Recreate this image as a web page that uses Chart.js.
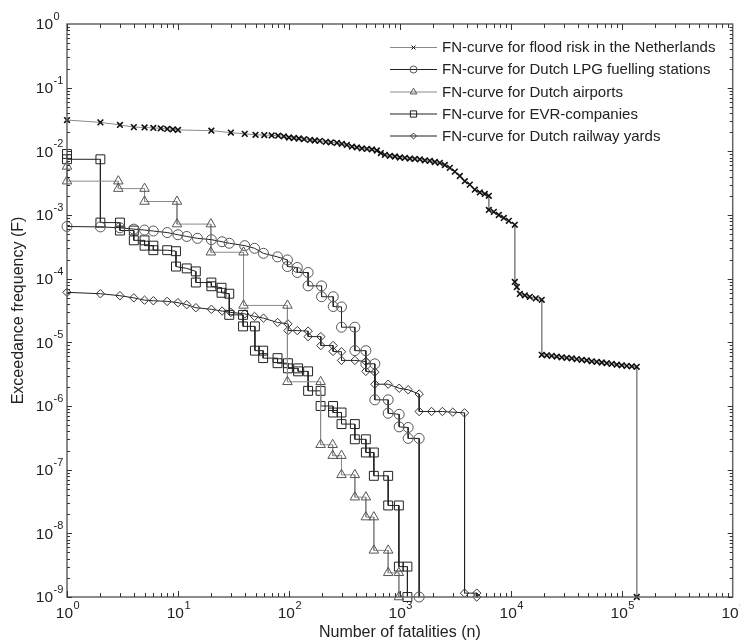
<!DOCTYPE html>
<html>
<head>
<meta charset="utf-8">
<script src="https://cdn.jsdelivr.net/npm/chart.js@4.4.0/dist/chart.umd.min.js"></script>
<style>
  body { margin: 0; background: #fff; }
  #wrap { width: 740px; height: 642px; }
</style>
</head>
<body>
<div id="wrap"><canvas id="fnChart" width="740" height="642"></canvas></div>
<script>
// FN-curve values (n = fatalities, F = exceedance frequency)
var floodN = [1, 2, 3, 4, 5, 6, 7, 8, 9, 10, 20, 30, 40, 50, 60, 70, 80, 90,
  100, 111, 123, 137, 155, 171, 190, 215, 239, 271, 300, 333, 370, 410, 455, 505, 560, 621,
  674, 733, 813, 902, 1000, 1110, 1231, 1365, 1514, 1680, 1863, 2067, 2293, 2543, 2821,
  3129, 3471, 3851, 4272, 4739, 5257, 5832, 6337, 6337, 7030, 7798, 8651, 9597, 10865,
  10865, 11330, 12050, 13370, 14830, 16800, 19010, 19010, 21090, 23390, 25950, 28790,
  31940, 35430, 39300, 43600, 48370, 53660, 59530, 66040, 73260, 81270, 90160, 100000,
  110900, 123100, 136500, 136500];
var floodF = [0.031, 0.0285, 0.026, 0.024, 0.0237, 0.0233, 0.023, 0.0225, 0.0222, 0.0217,
  0.0211, 0.0197, 0.0188, 0.0182, 0.018, 0.0178, 0.0176, 0.0172,
  0.0165, 0.0162, 0.0159, 0.0155, 0.0151, 0.0148, 0.0146, 0.0141, 0.0138, 0.0136, 0.0131,
  0.0126, 0.0119, 0.0115, 0.0111, 0.0109, 0.0107, 0.0103,
  0.0094, 0.0088, 0.0085, 0.0083, 0.0080, 0.0079, 0.0077, 0.0076, 0.0075, 0.0072, 0.0071,
  0.0068, 0.0066, 0.0061, 0.0055, 0.0048, 0.0041, 0.0034, 0.0030, 0.0025, 0.00226,
  0.00214, 0.0020, 0.0012, 0.00112, 0.0010, 0.0009, 0.00081, 0.0007,
  0.000089, 0.000074, 0.0000577, 0.0000547, 0.0000518, 0.0000491, 0.0000465,
  0.00000637, 0.00000625, 0.00000614, 0.00000597, 0.00000582, 0.00000571, 0.00000561,
  0.00000545, 0.00000531, 0.00000521, 0.00000503, 0.00000494, 0.00000482, 0.00000471,
  0.00000459, 0.00000446, 0.00000435, 0.00000427, 0.0000042, 0.00000412, 1e-9];

var lpgN = [1, 2, 3, 4, 5, 6, 8, 10, 12, 15, 20, 25, 29, 40, 49, 59, 79, 97, 97, 119, 119,
  149, 149, 197, 197, 251, 251, 298, 298, 393, 393, 494, 494, 595, 595, 785, 785, 986,
  986, 1188, 1188, 1493, 1493];
var lpgF = [6.6e-4, 6.5e-4, 6.3e-4, 6.0e-4, 5.8e-4, 5.6e-4, 5.3e-4, 4.9e-4, 4.6e-4,
  4.3e-4, 4.1e-4, 3.8e-4, 3.6e-4, 3.3e-4, 3.0e-4, 2.5e-4, 2.2e-4, 1.97e-4, 1.55e-4,
  1.5e-4, 1.25e-4, 1.25e-4, 7.7e-5, 7.7e-5, 5.2e-5, 5.2e-5, 3.65e-5, 3.6e-5, 1.73e-5,
  1.73e-5, 7.4e-6, 7.4e-6, 4.6e-6, 4.6e-6, 1.25e-6, 1.25e-6, 7.7e-7, 7.4e-7, 4.7e-7,
  4.6e-7, 3.1e-7, 3.1e-7, 1e-9];

var airportN = [1, 1, 2.9, 2.9, 5, 5, 9.8, 9.8, 19.8, 19.8, 39, 39, 97, 97, 193, 193, 248,
  248, 298, 298, 393, 393, 494, 494, 583, 583, 785, 785, 980, 980];
var airportF = [5.8e-3, 3.4e-3, 3.4e-3, 2.6e-3, 2.6e-3, 1.63e-3, 1.63e-3, 7.2e-4, 7.2e-4,
  2.6e-4, 2.6e-4, 3.8e-5, 3.8e-5, 2.4e-6, 2.4e-6, 2.46e-7, 2.46e-7, 1.66e-7, 1.66e-7,
  8.3e-8, 8.3e-8, 3.7e-8, 3.7e-8, 1.8e-8, 1.8e-8, 5.4e-9, 5.4e-9, 2.4e-9, 2.4e-9, 1e-9];

var evrN = [1, 1, 2, 2, 3, 3, 4, 4, 5, 5, 6, 6, 8, 9.6, 9.6, 12, 14.5, 14.5, 20, 20, 24.7,
  24.7, 29, 29, 38.6, 38.6, 49.4, 49.4, 58.6, 58.6, 79, 79, 98, 98, 121, 121, 149, 149,
  193, 193, 250, 250, 298, 298, 393, 393, 494, 494, 583, 583, 785, 785, 980, 980, 1170, 1170];
var evrF = [9.1e-3, 7.5e-3, 7.5e-3, 7.6e-4, 7.6e-4, 5.7e-4, 5.7e-4, 4.0e-4, 4.0e-4,
  3.3e-4, 3.3e-4, 2.8e-4, 2.8e-4, 2.7e-4, 1.55e-4, 1.45e-4, 1.3e-4, 8.7e-5, 8.7e-5,
  7.6e-5, 7.2e-5, 6.0e-5, 5.8e-5, 2.7e-5, 2.7e-5, 1.78e-5, 1.78e-5, 7.4e-6, 7.4e-6,
  5.65e-6, 5.65e-6, 4.7e-6, 4.7e-6, 3.9e-6, 3.9e-6, 3.5e-6, 3.5e-6, 1.73e-6, 1.73e-6,
  1.0e-6, 1.0e-6, 7.9e-7, 7.9e-7, 5.2e-7, 5.2e-7, 3.0e-7, 3.0e-7, 1.86e-7, 1.86e-7,
  8.0e-8, 8.0e-8, 2.74e-8, 2.74e-8, 3.0e-9, 3.0e-9, 1e-9];

var railN = [1, 2, 3, 4, 5, 6, 8, 10, 12, 14.5, 20, 25, 30, 40, 49, 59, 79, 98, 98, 119,
  149, 149, 194, 194, 250, 250, 298, 298, 393, 494, 494, 595, 595, 785, 986, 1188, 1493,
  1493, 1930, 2420, 3000, 3830, 3830, 4930, 4930];
var railF = [6.1e-5, 5.8e-5, 5.4e-5, 5.0e-5, 4.6e-5, 4.5e-5, 4.4e-5, 4.2e-5, 3.9e-5,
  3.5e-5, 3.3e-5, 3.1e-5, 2.95e-5, 2.8e-5, 2.55e-5, 2.4e-5, 2.05e-5, 1.95e-5, 1.53e-5,
  1.53e-5, 1.5e-5, 1.23e-5, 1.23e-5, 8.9e-6, 8.9e-6, 7.2e-6, 7.1e-6, 5.2e-6, 5.2e-6,
  5.0e-6, 3.5e-6, 3.4e-6, 2.2e-6, 2.2e-6, 1.9e-6, 1.8e-6, 1.54e-6, 8.2e-7, 8.2e-7,
  8.2e-7, 8.0e-7, 7.8e-7, 1.15e-9, 1.15e-9, 1e-9];

var seriesNames = [
  'FN-curve for flood risk in the Netherlands',
  'FN-curve for Dutch LPG fuelling stations',
  'FN-curve for Dutch airports',
  'FN-curve for EVR-companies',
  'FN-curve for Dutch railway yards'
];
var xExponents = [0, 1, 2, 3, 4, 5, 6];
var yExponents = [0, -1, -2, -3, -4, -5, -6, -7, -8, -9];
var xTitle = 'Number of fatalities (n)';
var yTitle = 'Exceedance frequency (F)';

var FONT = '"Liberation Sans", Arial, sans-serif';

function pairs(ns, fs) {
  return ns.map(function (n, i) { return { x: n, y: fs[i] }; });
}

function makeSet(label, ns, fs, style, radius, lineColor, markColor, markWidth) {
  return {
    label: label,
    data: pairs(ns, fs),
    showLine: true,
    borderColor: lineColor,
    borderWidth: 1,
    pointStyle: style,
    pointRadius: radius,
    pointBorderColor: markColor,
    pointBorderWidth: markWidth,
    pointBackgroundColor: 'rgba(0,0,0,0)',
    clip: 12
  };
}

var datasets = [
  makeSet(seriesNames[0], floodN, floodF, 'crossRot', 4, '#8a8a8a', '#111', 1.6),
  makeSet(seriesNames[1], lpgN, lpgF, 'circle', 5, '#222', '#555', 1),
  makeSet(seriesNames[2], airportN, airportF, 'triangle', 5.5, '#8a8a8a', '#555', 1),
  makeSet(seriesNames[3], evrN, evrF, 'rect', 6.3, '#222', '#222', 1),
  makeSet(seriesNames[4], railN, railF, 'rectRot', 4.2, '#222', '#333', 1)
];

// frame, inner ticks, 10^k labels, titles and legend
var framePlugin = {
  id: 'frame',
  afterDraw: function (chart) {
    var ctx = chart.ctx;
    var a = chart.chartArea;
    var xs = chart.scales.x, ys = chart.scales.y;
    ctx.save();

    ctx.strokeStyle = '#666';
    ctx.lineWidth = 1.5;
    ctx.strokeRect(a.left, a.top, a.right - a.left, a.bottom - a.top);

    ctx.strokeStyle = '#333';
    ctx.lineWidth = 1;
    ctx.beginPath();
    for (var i = 0; i < xExponents.length - 1; i++) {
      for (var m = 1; m < 10; m++) {
        var px = Math.round(xs.getPixelForValue(m * Math.pow(10, xExponents[i]))) + 0.5;
        var len = m == 1 ? 6 : 4;
        ctx.moveTo(px, a.bottom); ctx.lineTo(px, a.bottom - len);
        ctx.moveTo(px, a.top); ctx.lineTo(px, a.top + len);
      }
    }
    for (var j = 1; j < yExponents.length; j++) {
      for (var k = 1; k < 10; k++) {
        var py = Math.round(ys.getPixelForValue(k * Math.pow(10, yExponents[j]))) + 0.5;
        var l2 = k == 1 ? 5 : 3;
        ctx.moveTo(a.left, py); ctx.lineTo(a.left + l2, py);
        ctx.moveTo(a.right, py); ctx.lineTo(a.right - l2, py);
      }
    }
    ctx.stroke();

    // tick labels
    ctx.fillStyle = '#222';
    ctx.textBaseline = 'middle';
    xExponents.forEach(function (e) {
      var px = xs.getPixelForValue(Math.pow(10, e));
      ctx.font = '15.5px ' + FONT;
      ctx.textAlign = 'right';
      ctx.fillText('10', px + 6, 614);
      ctx.font = '11px ' + FONT;
      ctx.textAlign = 'left';
      ctx.fillText(String(e), px + 6.5, 606);
    });
    yExponents.forEach(function (e) {
      var py = ys.getPixelForValue(Math.pow(10, e));
      ctx.font = '15.5px ' + FONT;
      ctx.textAlign = 'right';
      ctx.fillText('10', 53, py + 1);
      ctx.font = '11px ' + FONT;
      ctx.textAlign = 'left';
      ctx.fillText(e == 0 ? '0' : '-' + Math.abs(e), 53.5, py - 7);
    });

    // axis titles
    ctx.font = '16px ' + FONT;
    ctx.textAlign = 'center';
    ctx.fillText(xTitle, (a.left + a.right) / 2, 633);
    ctx.save();
    ctx.translate(19, (a.top + a.bottom) / 2);
    ctx.rotate(-Math.PI / 2);
    ctx.fillText(yTitle, 0, 0);
    ctx.restore();

    // legend: line with marker in the middle, then the text
    var rows = [47, 69, 91.5, 113.5, 135.5];
    chart.data.datasets.forEach(function (ds, i) {
      var y = rows[i];
      ctx.strokeStyle = ds.borderColor;
      ctx.lineWidth = 1;
      ctx.beginPath();
      ctx.moveTo(390, y + 0.5); ctx.lineTo(437, y + 0.5);
      ctx.stroke();
      ctx.strokeStyle = ds.pointBorderColor;
      ctx.fillStyle = 'rgba(0,0,0,0)';
      Chart.helpers.drawPoint(ctx, {
        pointStyle: ds.pointStyle,
        radius: ds.pointRadius * 0.7,
        rotation: 0,
        borderWidth: 1
      }, 413.5, y + 0.5);
      ctx.fillStyle = '#222';
      ctx.font = '15px ' + FONT;
      ctx.textAlign = 'left';
      ctx.textBaseline = 'middle';
      ctx.fillText(ds.label, 442, y + 1);
    });

    ctx.restore();
  }
};

new Chart(document.getElementById('fnChart').getContext('2d'), {
  type: 'scatter',
  data: { datasets: datasets },
  options: {
    responsive: false,
    animation: false,
    layout: { padding: { left: 67, top: 24, right: 7, bottom: 45 } },
    plugins: { legend: { display: false }, tooltip: { enabled: false } },
    scales: {
      x: { type: 'logarithmic', min: 1, max: 1e6, display: false },
      y: { type: 'logarithmic', min: 1e-9, max: 1, display: false }
    }
  },
  plugins: [framePlugin]
});
</script>
</body>
</html>
